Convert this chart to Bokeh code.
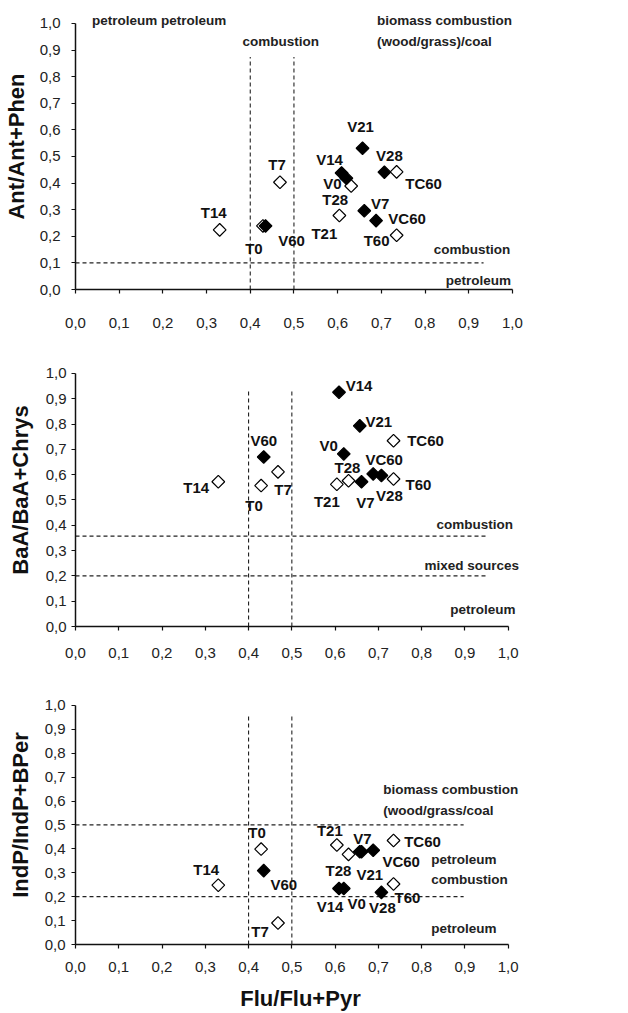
import math
from bokeh.plotting import figure
from bokeh.layouts import column
from bokeh.models import ColumnDataSource, FixedTicker, Label, Range1d
from bokeh.embed import file_html
from bokeh.resources import INLINE
from bokeh.core.properties import value

# ---------------- data ----------------
samples = ["T0", "T7", "T14", "T21", "T28", "T60", "TC60",
           "V0", "V7", "V14", "V21", "V28", "V60", "VC60"]
is_filled = [False, False, False, False, False, False, False,
             True, True, True, True, True, True, True]
flu_pyr = [0.429, 0.468, 0.330, 0.604, 0.631, 0.735, 0.735,
           0.620, 0.661, 0.609, 0.657, 0.707, 0.435, 0.688]
ant_phen = [0.239, 0.403, 0.224, 0.278, 0.389, 0.204, 0.442,
            0.418, 0.296, 0.438, 0.531, 0.441, 0.239, 0.259]
baa_chrys = [0.557, 0.611, 0.572, 0.562, 0.576, 0.583, 0.734,
             0.682, 0.572, 0.926, 0.793, 0.597, 0.670, 0.603]
indp_bper = [0.399, 0.090, 0.248, 0.416, 0.377, 0.253, 0.435,
             0.234, 0.388, 0.234, 0.388, 0.218, 0.309, 0.394]

tick_values = [0.0, 0.1, 0.2, 0.3, 0.4, 0.5, 0.6, 0.7, 0.8, 0.9, 1.0]
tick_labels = ["0,0", "0,1", "0,2", "0,3", "0,4", "0,5", "0,6", "0,7", "0,8", "0,9", "1,0"]

# thresholds
p1_vlines = [0.4, 0.5]
p1_hlines = [0.1]
p2_vlines = [0.4, 0.5]
p2_hlines = [0.2, 0.357]
p3_vlines = [0.4, 0.5]
p3_hlines = [0.2, 0.5]

# ---------------- layout (label offsets in screen px: dx right, dy down) ----------------
off1 = {"T0": (-9, 23), "T7": (-3, -18), "T14": (-6, -17), "T21": (-15, 18), "T28": (-16, 13),
        "T60": (-20, 5), "TC60": (27, 12), "V0": (-14, 5), "V7": (16, -7), "V14": (-12, -13),
        "V21": (-2, -22), "V28": (5, -17), "V60": (26, 15), "VC60": (31, -2)}
off2 = {"T0": (-7, 20), "T7": (5, 18), "T14": (-22, 6), "T21": (-10, 17), "T28": (-1, -13),
        "T60": (25, 6), "TC60": (32, 0), "V0": (-15, -8), "V7": (4, 21), "V14": (20, -7),
        "V21": (19, -4), "V28": (8, 20), "V60": (0, -16), "VC60": (11, -14)}
off3 = {"T0": (-4, -17), "T7": (-18, 9), "T14": (-12, -16), "T21": (-7, -15), "T28": (-10, 16),
        "T60": (14, 14), "TC60": (29, 1), "V0": (13, 15), "V7": (1, -13), "V14": (-9, 18),
        "V21": (10, 23), "V28": (1, 15), "V60": (20, 14), "VC60": (28, 11)}

FONT = "Liberation Sans"
TICK_OVERRIDES = dict(zip(tick_values, tick_labels))


def make_panel(yvals, ylabel, height, border, x_end, y_end, vlines, vline_top, hlines, hline_end,
               offsets, regions, x_std, y_std, ylab_std, xlabel=None):
    p = figure(width=628, height=height, output_backend="svg", toolbar_location=None,
               x_range=Range1d(0, x_end), y_range=Range1d(0, y_end),
               min_border_left=border[0], min_border_right=border[1],
               min_border_top=border[2], min_border_bottom=border[3])
    p.outline_line_color = None
    p.xgrid.grid_line_color = None
    p.ygrid.grid_line_color = None
    p.background_fill_color = "white"
    p.border_fill_color = "white"

    for ax in (p.xaxis[0], p.yaxis[0]):
        ax.ticker = FixedTicker(ticks=tick_values)
        ax.major_label_overrides = TICK_OVERRIDES
        ax.bounds = (0, 1)
        ax.minor_tick_line_color = None
        ax.major_tick_in = 0
        ax.major_tick_out = 4
        ax.axis_line_width = 1.5
        ax.axis_line_color = "#111111"
        ax.major_tick_line_color = "#111111"
        ax.major_tick_line_width = 1.2
        ax.major_label_text_font = FONT
        ax.major_label_text_font_size = "15px"
        ax.major_label_text_color = "#222222"
        ax.axis_label_text_font = FONT
        ax.axis_label_text_font_style = "bold"
        ax.axis_label_text_font_size = "22px"
        ax.axis_label_text_color = "#111111"
    p.xaxis.major_label_standoff = x_std
    p.yaxis.major_label_standoff = y_std
    p.yaxis.axis_label = ylabel
    p.yaxis.axis_label_standoff = ylab_std
    if xlabel:
        p.xaxis.axis_label = xlabel
        p.xaxis.axis_label_standoff = 11

    # threshold lines
    for xv in vlines:
        p.line([xv, xv], [0, vline_top], line_color="#222222", line_width=1.1, line_dash="4 3")
    for yv in hlines:
        p.line([0, hline_end], [yv, yv], line_color="#222222", line_width=1.1, line_dash="4 3")

    # points
    xs_o, ys_o, xs_f, ys_f = [], [], [], []
    for s, f, xv, yv in zip(samples, is_filled, flu_pyr, yvals):
        if f:
            xs_f.append(xv); ys_f.append(yv)
        else:
            xs_o.append(xv); ys_o.append(yv)
    p.scatter(xs_o, ys_o, marker="square", angle=math.pi / 4, size=9,
              fill_color="white", line_color="black", line_width=1.2)
    p.scatter(xs_f, ys_f, marker="square", angle=math.pi / 4, size=9,
              fill_color="black", line_color="black", line_width=1.2)

    lab = ColumnDataSource(dict(
        x=flu_pyr, y=yvals, t=samples,
        dx=[offsets[s][0] for s in samples],
        dy=[offsets[s][1] for s in samples]))
    p.text(x="x", y="y", text="t", x_offset="dx", y_offset="dy", source=lab,
           text_font=value(FONT), text_font_style="bold", text_font_size="15px",
           text_align="center", text_baseline="middle", text_color="#111111")

    for txt, xv, yv, align in regions:
        p.add_layout(Label(x=xv, y=yv, text=txt, text_align=align, text_baseline="middle",
                           text_font=FONT, text_font_style="bold", text_font_size="13.5px",
                           text_color="#222222"))
    return p


reg1 = [("petroleum petroleum", 0.038, 1.012, "left"),
        ("combustion", 0.47, 0.934, "center"),
        ("biomass  combustion", 0.69, 1.012, "left"),
        ("(wood/grass)/coal", 0.69, 0.934, "left"),
        ("combustion", 0.995, 0.152, "right"),
        ("petroleum", 0.997, 0.035, "right")]
reg2 = [("combustion", 1.011, 0.405, "right"),
        ("mixed sources", 1.025, 0.241, "right"),
        ("petroleum", 1.017, 0.066, "right")]
reg3 = [("biomass combustion", 0.711, 0.647, "left"),
        ("(wood/grass/coal", 0.711, 0.561, "left"),
        ("petroleum", 0.822, 0.357, "left"),
        ("combustion", 0.822, 0.271, "left"),
        ("petroleum", 0.822, 0.065, "left")]

p1 = make_panel(ant_phen, "Ant/Ant+Phen", 338, (74, 103, 3, 49), 1.03, 1.075,
                p1_vlines, 0.874, p1_hlines, 0.934, off1, reg1, 24, 11, 8)
p2 = make_panel(baa_chrys, "BaA/BaA+Chrys", 330, (69, 103, 15, 42), 1.04, 1.079,
                p2_vlines, 0.938, p2_hlines, 0.953, off2, reg2, 17, 5, 10)
p3 = make_panel(indp_bper, "IndP/IndP+BPer", 345, (68, 100, 17, 66), 1.04, 1.083,
                p3_vlines, 0.96, p3_hlines, 0.897, off3, reg3, 13, 6, 9,
                xlabel="Flu/Flu+Pyr")

layout = column(p1, p2, p3, spacing=0)
open("out.html", "w").write(file_html(layout, INLINE))
